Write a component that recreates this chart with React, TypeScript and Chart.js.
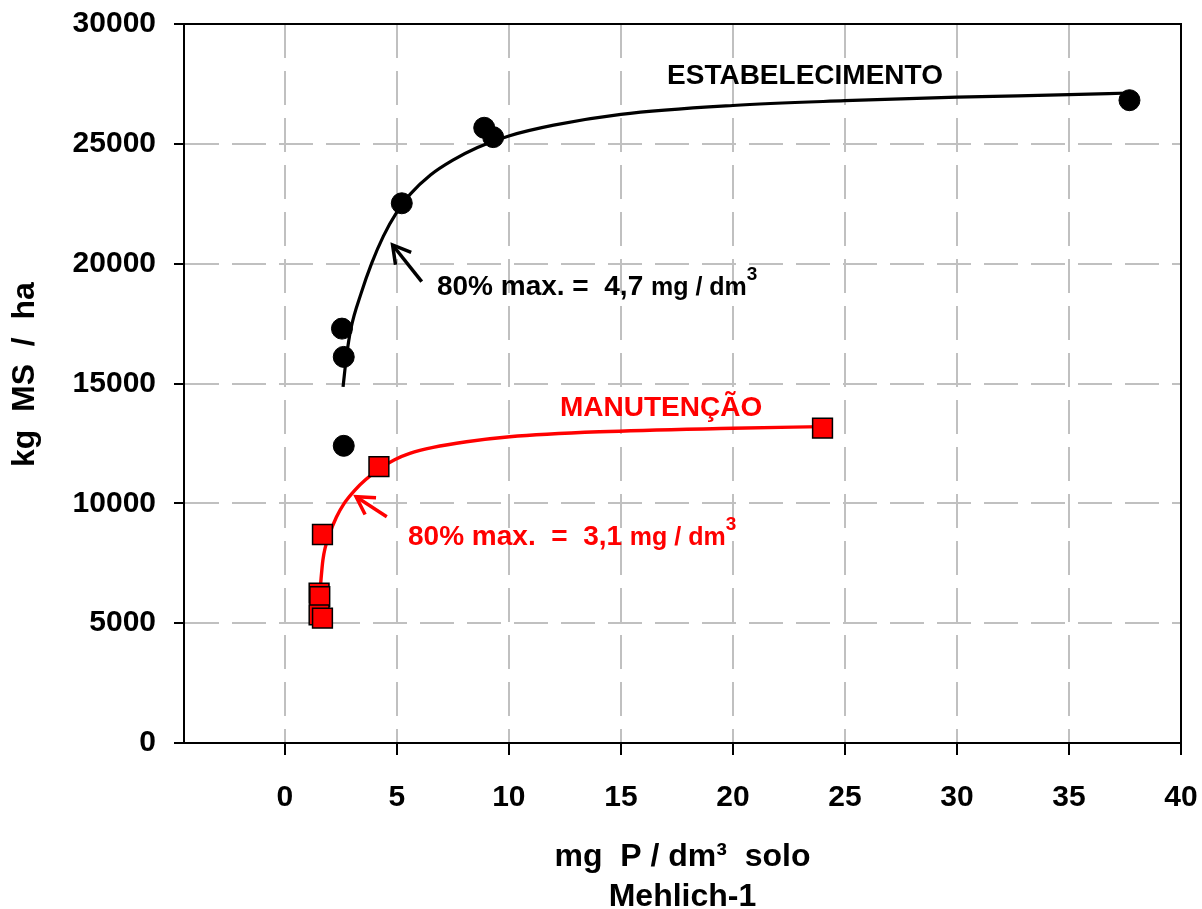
import React, { useEffect, useRef } from "react";
import { Chart, registerables } from "chart.js";

Chart.register(...registerables);

const FONT = '"Liberation Sans", Arial, Helvetica, sans-serif';

// ---- Observed data points ----
const ESTAB_X = [2.55, 2.63, 2.63, 5.22, 8.9, 9.3, 37.7];
const ESTAB_Y = [17290, 16110, 12400, 22520, 25670, 25280, 26820];

const MANUT_X = [4.2, 1.68, 1.53, 1.56, 1.53, 1.68, 24.0];
const MANUT_Y = [11530, 8700, 6250, 6110, 5350, 5210, 13140];

// ---- Fitted curves ----
const ESTAB_FIT_X = [2.6, 2.75, 2.95, 3.4, 3.87, 4.4, 5.0, 5.6, 6.5, 7.5, 8.6, 10.0, 12.0, 15.0, 20.0, 25.0, 30.0, 35.0, 37.7];
const ESTAB_FIT_Y = [14860, 16110, 17290, 18750, 20000, 21150, 22150, 22900, 23700, 24320, 24850, 25330, 25780, 26230, 26600, 26800, 26950, 27050, 27120];

const MANUT_FIT_X = [1.58, 1.7, 2.0, 2.3, 2.65, 3.13, 3.6, 4.2, 4.9, 5.58, 6.62, 8.11, 10.04, 14.06, 20.0, 24.0];
const MANUT_FIT_Y = [6450, 7640, 8720, 9420, 10000, 10555, 10980, 11430, 11820, 12084, 12334, 12568, 12776, 12985, 13130, 13200];

// ---- Axes ----
const X_TICKS = [0, 5, 10, 15, 20, 25, 30, 35, 40];
const Y_TICKS = [0, 5000, 10000, 15000, 20000, 25000, 30000];
const X_MIN = -4.5;
const X_MAX = 40;
const Y_MIN = 0;
const Y_MAX = 30000;

const X_TITLE = ["mg  P / dm³  solo", "Mehlich-1"];
const Y_TITLE = "  kg  MS  /  ha";

const BLACK = "#000000";
const RED = "#ff0000";

// ---- Annotations (anchored in data units) ----
const LABELS = [
  { x: 17.06, y: 27497, color: BLACK, parts: [{ text: "ESTABELECIMENTO", size: 28, rise: 0 }] },
  { x: 12.28, y: 13644, color: RED, parts: [{ text: "MANUTENÇÃO", size: 28, rise: 0 }] },
  {
    x: 6.79, y: 18693, color: BLACK,
    parts: [
      { text: "80% max. =  4,7 ", size: 28, rise: 0 },
      { text: "mg / dm", size: 25, rise: 0 },
      { text: "3", size: 19, rise: 15 },
    ],
  },
  {
    x: 5.5, y: 8261, color: RED,
    parts: [
      { text: "80% max.  =  3,1 ", size: 28, rise: 0 },
      { text: "mg / dm", size: 25, rise: 0 },
      { text: "3", size: 19, rise: 15 },
    ],
  },
];

const ARROWS = [
  { from: [6.11, 19248], to: [4.81, 20779], color: BLACK },
  { from: [4.55, 9442], to: [3.18, 10277], color: RED },
];

const zip = (xs: number[], ys: number[]) => xs.map((x, i) => ({ x, y: ys[i] }));

const annotationPlugin = {
  id: "annotations",
  afterDatasetsDraw(chart: any) {
    const { ctx, chartArea } = chart;
    const xs = chart.scales.x;
    const ys = chart.scales.y;
    ctx.save();
    // frame: top and right
    ctx.strokeStyle = BLACK;
    ctx.lineWidth = 2;
    ctx.setLineDash([]);
    ctx.beginPath();
    ctx.moveTo(chartArea.left, chartArea.top);
    ctx.lineTo(chartArea.right, chartArea.top);
    ctx.lineTo(chartArea.right, chartArea.bottom);
    ctx.stroke();

    // arrows
    for (const a of ARROWS) {
      const x1 = xs.getPixelForValue(a.from[0]);
      const y1 = ys.getPixelForValue(a.from[1]);
      const x2 = xs.getPixelForValue(a.to[0]);
      const y2 = ys.getPixelForValue(a.to[1]);
      const ang = Math.atan2(y1 - y2, x1 - x2);
      const len = 20;
      const spread = Math.PI / 6;
      ctx.strokeStyle = a.color;
      ctx.lineWidth = 3.5;
      ctx.lineCap = "butt";
      ctx.lineJoin = "miter";
      ctx.beginPath();
      ctx.moveTo(x1, y1);
      ctx.lineTo(x2, y2);
      ctx.stroke();
      ctx.beginPath();
      ctx.moveTo(x2 + len * Math.cos(ang + spread), y2 + len * Math.sin(ang + spread));
      ctx.lineTo(x2, y2);
      ctx.lineTo(x2 + len * Math.cos(ang - spread), y2 + len * Math.sin(ang - spread));
      ctx.stroke();
    }

    // labels
    ctx.textAlign = "left";
    ctx.textBaseline = "alphabetic";
    for (const l of LABELS) {
      let cx = xs.getPixelForValue(l.x);
      const by = ys.getPixelForValue(l.y);
      ctx.fillStyle = l.color;
      for (const p of l.parts) {
        ctx.font = `bold ${p.size}px ${FONT}`;
        ctx.fillText(p.text, cx, by - p.rise);
        cx += ctx.measureText(p.text).width;
      }
    }
    ctx.restore();
  },
};

export default function App() {
  const ref = useRef<HTMLCanvasElement>(null);

  useEffect(() => {
    const canvas = ref.current;
    if (!canvas) return;
    Chart.defaults.font.family = FONT;
    const chart = new Chart(canvas, {
      type: "scatter",
      data: {
        datasets: [
          {
            label: "ESTABELECIMENTO",
            data: zip(ESTAB_X, ESTAB_Y),
            pointStyle: "circle",
            pointRadius: 10.5,
            pointHoverRadius: 10.5,
            backgroundColor: BLACK,
            borderColor: BLACK,
            borderWidth: 1,
            showLine: false,
            order: 0,
          },
          {
            label: "MANUTENÇÃO",
            data: zip(MANUT_X, MANUT_Y),
            pointStyle: "rect",
            pointRadius: 14,
            pointHoverRadius: 14,
            backgroundColor: RED,
            borderColor: BLACK,
            borderWidth: 1.5,
            showLine: false,
            order: 0,
          },
          {
            label: "Ajuste estabelecimento",
            data: zip(ESTAB_FIT_X, ESTAB_FIT_Y),
            showLine: true,
            pointRadius: 0,
            borderColor: BLACK,
            backgroundColor: BLACK,
            borderWidth: 3.2,
            cubicInterpolationMode: "monotone",
            order: 1,
          },
          {
            label: "Ajuste manutenção",
            data: zip(MANUT_FIT_X, MANUT_FIT_Y),
            showLine: true,
            pointRadius: 0,
            borderColor: RED,
            backgroundColor: RED,
            borderWidth: 3.4,
            cubicInterpolationMode: "monotone",
            order: 1,
          },
        ],
      },
      options: {
        responsive: false,
        maintainAspectRatio: false,
        animation: false,
        devicePixelRatio: 1,
        layout: { padding: { top: 24, right: 21, left: 0, bottom: 0 } },
        plugins: {
          legend: { display: false },
          tooltip: { enabled: false },
        },
        scales: {
          x: {
            type: "linear",
            min: X_MIN,
            max: X_MAX,
            afterBuildTicks: (scale: any) => {
              scale.ticks = X_TICKS.map((v) => ({ value: v }));
            },
            afterFit: (scale: any) => {
              scale.height = 166;
              scale.paddingLeft = 0;
              scale.paddingRight = 0;
              scale.paddingTop = 0;
              scale.paddingBottom = 0;
            },
            grid: {
              color: "#c0c0c0",
              lineWidth: 2,
              drawTicks: true,
              tickLength: 12,
              tickColor: BLACK,
              tickWidth: 2,
            },
            border: { display: true, color: BLACK, width: 2, dash: [34, 13] },
            ticks: {
              color: BLACK,
              font: { size: 30, weight: "bold", family: FONT },
              padding: 25,
              maxRotation: 0,
              autoSkip: false,
              callback: (v: any) => String(v),
            },
            title: {
              display: true,
              text: X_TITLE,
              color: BLACK,
              font: { size: 32, weight: "bold", family: FONT, lineHeight: 1.25 },
              padding: { top: 0, bottom: -8 },
            },
          },
          y: {
            type: "linear",
            min: Y_MIN,
            max: Y_MAX,
            afterBuildTicks: (scale: any) => {
              scale.ticks = Y_TICKS.map((v) => ({ value: v }));
            },
            afterFit: (scale: any) => {
              scale.width = 184;
              scale.paddingLeft = 0;
              scale.paddingRight = 0;
              scale.paddingTop = 0;
              scale.paddingBottom = 0;
            },
            grid: {
              color: "#c0c0c0",
              lineWidth: 2,
              drawTicks: true,
              tickLength: 10,
              tickColor: BLACK,
              tickWidth: 2,
            },
            border: { display: true, color: BLACK, width: 2, dash: [34, 13] },
            ticks: {
              color: BLACK,
              font: { size: 30, weight: "bold", family: FONT },
              padding: 18,
              callback: (v: any) => String(v),
            },
            title: {
              display: true,
              text: Y_TITLE,
              color: BLACK,
              font: { size: 32, weight: "bold", family: FONT, lineHeight: 1.25 },
              padding: { top: 5, bottom: 0 },
            },
          },
        },
      },
      plugins: [annotationPlugin],
    } as any);
    return () => chart.destroy();
  }, []);

  return (
    <div style={{ position: "absolute", left: 0, top: 0, width: 1202, height: 909, background: "#ffffff" }}>
      <canvas ref={ref} width={1202} height={909} style={{ display: "block", width: 1202, height: 909 }} />
    </div>
  );
}
